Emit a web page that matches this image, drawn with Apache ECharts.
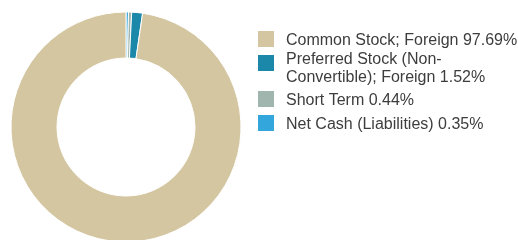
<!DOCTYPE html>
<html>
<head>
<meta charset="utf-8">
<script src="https://cdn.jsdelivr.net/npm/echarts@6/dist/echarts.min.js"></script>
<style>
  html, body { margin: 0; padding: 0; background: #fff; }
  #chart { width: 518px; height: 240px; }
</style>
</head>
<body>
<div id="chart"></div>
<script>
// legend order (top to bottom)
const categories = [
  'Common Stock; Foreign',
  'Preferred Stock (Non-\nConvertible); Foreign',
  'Short Term',
  'Net Cash (Liabilities)'
]
const values = [97.69, 1.52, 0.44, 0.35]
const colors = ['#d3c6a0', '#1b88aa', '#9fb5ae', '#33a6dc']

const chart = echarts.init(document.getElementById('chart'))

// pie goes clockwise from the top in reverse legend order
const pieData = categories.map((name, i) => ({
  name: name,
  value: values[i],
  itemStyle: { color: colors[i] }
})).reverse()

// one legend block per item; the icon box is taller than the swatch so the
// swatch lines up with the first text line like in the original
const legendLayout = [
  { top: 31, boxH: 20 },
  { top: 51, boxH: 27 },
  { top: 91, boxH: 20 },
  { top: 115, boxH: 20 }
]

const legends = categories.map((name, i) => {
  const lay = legendLayout[i]
  return {
    orient: 'vertical',
    left: 258,
    top: lay.top,
    padding: 0,
    itemWidth: 16,
    itemHeight: lay.boxH,
    icon: 'path://M0,0H16V16H0Z M0,' + lay.boxH + 'L0,' + lay.boxH,
    itemStyle: { borderWidth: 0 },
    data: [name],
    selectedMode: false,
    formatter: n => n + ' ' + values[categories.indexOf(n)].toFixed(2) + '%',
    textStyle: {
      fontFamily: 'Liberation Sans, Arial, sans-serif',
      fontSize: 16,
      color: '#3d3d3d',
      lineHeight: 17.5,
      padding: [0, 0, 0, 7]
    }
  }
})

chart.setOption({
  backgroundColor: '#fff',
  animation: false,
  legend: legends,
  series: [{
    type: 'pie',
    center: [126, 127],
    radius: [69, 115],
    startAngle: 90,
    clockwise: true,
    label: { show: false },
    labelLine: { show: false },
    emphasis: { disabled: true },
    itemStyle: { borderColor: '#fff', borderWidth: 1 },
    data: pieData
  }]
})
</script>
</body>
</html>
